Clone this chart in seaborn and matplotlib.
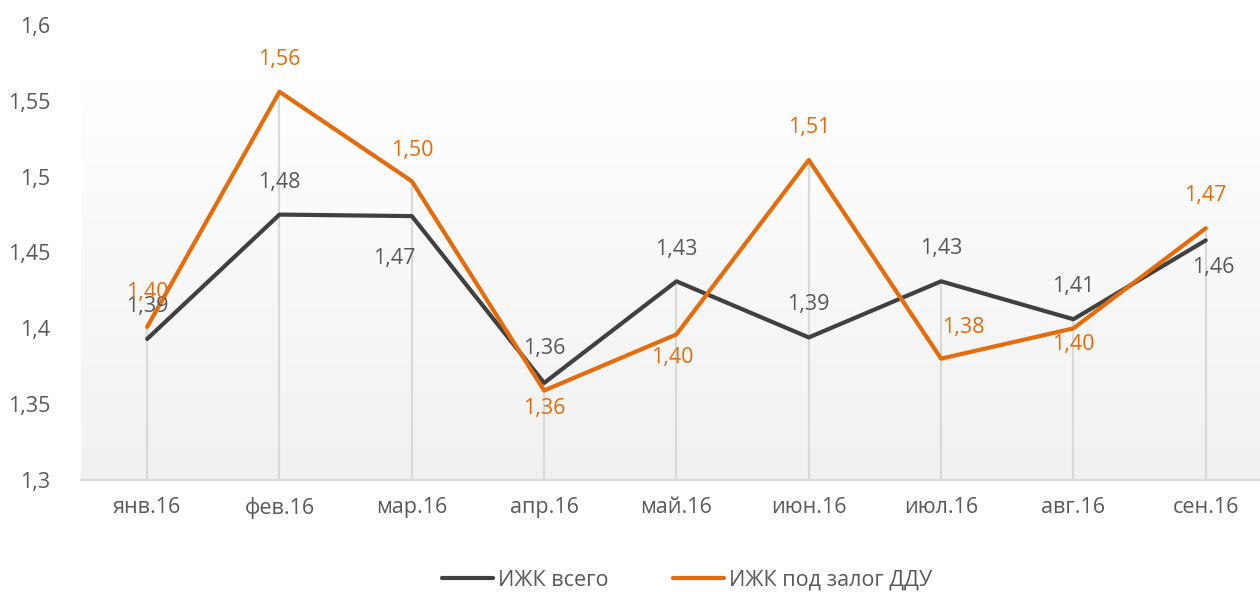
import numpy as np
import pandas as pd
import seaborn as sns
import matplotlib.pyplot as plt
from matplotlib.ticker import FuncFormatter

sns.set_theme(style="white")
plt.rcParams['font.family'] = ['Open Sans', 'DejaVu Sans']

months = ["янв.16", "фев.16", "мар.16", "апр.16", "май.16",
          "июн.16", "июл.16", "авг.16", "сен.16"]
izhk_total = [1.393, 1.475, 1.474, 1.364, 1.431, 1.394, 1.431, 1.406, 1.458]
izhk_ddu = [1.401, 1.556, 1.497, 1.359, 1.396, 1.511, 1.380, 1.400, 1.466]

# label offsets (pixels) for each point: (dx, dy)
off_total = [(0, 32), (0, 32), (-18, -42), (0, 34), (0, 32), (0, 33), (0, 33), (0, 33), (7, -27)]
off_ddu = [(0, 34), (0, 32), (0, 31), (0, -18), (-4, -23), (0, 32), (22, 31), (0, -16), (0, 33)]

pos = np.arange(len(months))
data = pd.DataFrame({"pos": pos, "total": izhk_total, "ddu": izhk_ddu})

c_total = "#404040"
c_ddu = "#E46C0A"
c_text = "#595959"
fs = 15.5

fig = plt.figure(figsize=(12.6, 5.92), dpi=100)
ax = fig.add_axes([81 / 1260, 1 - 480 / 592, (1260 - 81) / 1260, 455 / 592])
ax.set_xlim(-0.5, 8.41)
ax.set_ylim(1.3, 1.6)

# gradient plot area
grad = np.linspace(0, 1, 256).reshape(-1, 1)
ax.imshow(grad, cmap=plt.matplotlib.colors.LinearSegmentedColormap.from_list(
    "g", ["#f1f1f1", "#ffffff"]), origin="lower", aspect="auto",
    extent=[-0.5, 8.5, 1.3, 1.566], zorder=0)

# drop lines
ax.vlines(pos, 1.3, np.maximum(izhk_total, izhk_ddu), color="#d9d9d9", lw=1.5, zorder=1)

sns.lineplot(data=data, x="pos", y="total", color=c_total, lw=3, ax=ax,
             label="ИЖК всего", zorder=3, sort=False)
sns.lineplot(data=data, x="pos", y="ddu", color=c_ddu, lw=3, ax=ax,
             label="ИЖК под залог ДДУ", zorder=4, sort=False)

px = 72 / 100
for x, v, (dx, dy) in zip(pos, izhk_total, off_total):
    ax.annotate(f"{v:.2f}".replace(".", ","), (x, v), xytext=(dx * px, dy * px),
                textcoords="offset points", ha="center", va="center",
                color=c_text, fontsize=fs, zorder=5)
for x, v, (dx, dy) in zip(pos, izhk_ddu, off_ddu):
    ax.annotate(f"{v:.2f}".replace(".", ","), (x, v), xytext=(dx * px, dy * px),
                textcoords="offset points", ha="center", va="center",
                color=c_ddu, fontsize=fs, zorder=5)

ax.set_xticks(pos)
ax.set_xticklabels(months)
ax.set_yticks(np.arange(1.3, 1.6001, 0.05))
ax.yaxis.set_major_formatter(FuncFormatter(lambda v, p: f"{round(v, 2):g}".replace(".", ",")))
ax.tick_params(axis="both", colors=c_text, labelsize=fs, length=0)
ax.tick_params(axis="y", pad=22)
ax.tick_params(axis="x", pad=12)
ax.set(xlabel="", ylabel="")
ax.grid(False)
sns.despine(ax=ax, left=True, right=True, top=True)
ax.spines["bottom"].set_color("#d9d9d9")
ax.spines["bottom"].set_linewidth(1.5)
ax.set_facecolor("none")

ax.get_legend().remove()
h, l = ax.get_legend_handles_labels()
fig.legend(h, l, loc="center", bbox_to_anchor=(0.545, 1 - 580 / 592), ncol=2,
           frameon=False, fontsize=fs, labelcolor=c_text, handlelength=2.4,
           handletextpad=0.2, columnspacing=3.0)

fig.savefig("out.png", dpi=100)
